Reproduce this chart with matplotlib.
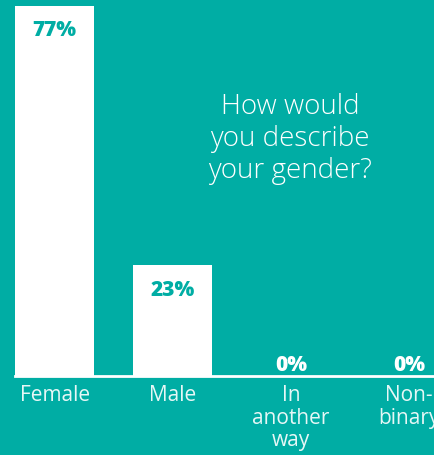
import matplotlib.pyplot as plt

categories = ['Female', 'Male', 'In\nanother\nway', 'Non-\nbinary']
values = [77, 23, 0, 0]
labels = ['77%', '23%', '0%', '0%']

teal = '#00ADA4'
plt.rcParams['font.family'] = ['Open Sans', 'DejaVu Sans']

fig = plt.figure(figsize=(4.35, 4.56), dpi=100, facecolor=teal)
ax = fig.add_axes([15 / 435, 79 / 456, 420 / 435, 370 / 456])
ax.set_facecolor(teal)

x = range(len(categories))
ax.bar(x, values, width=0.67, color='white')
ax.set_xlim(-0.335, 3.22)
ax.set_ylim(0, 77)

for i, (v, lab) in enumerate(zip(values, labels)):
    if v > 5:
        ax.annotate(lab, (i, v), xytext=(0, -17), textcoords='offset points',
                    ha='center', va='center', color=teal, fontsize=15, fontweight='heavy')
    else:
        ax.annotate(lab, (i, 0), xytext=(0, 8.5), textcoords='offset points',
                    ha='center', va='center', color='white', fontsize=15, fontweight='heavy')

for s in ['top', 'right', 'left']:
    ax.spines[s].set_visible(False)
ax.spines['bottom'].set_color('white')
ax.spines['bottom'].set_linewidth(2)
ax.set_yticks([])
ax.set_xticks(list(x))
ax.set_xticklabels(categories, color='#E6F7F6', fontsize=15, linespacing=1.08)
ax.tick_params(axis='x', length=0, pad=6)

fig.text(290 / 435, 1 - 139 / 456, 'How would\nyou describe\nyour gender?', ha='center', va='center',
         color='white', fontsize=20, fontweight='light', linespacing=1.17)

fig.savefig('out.png', dpi=100, facecolor=teal)
